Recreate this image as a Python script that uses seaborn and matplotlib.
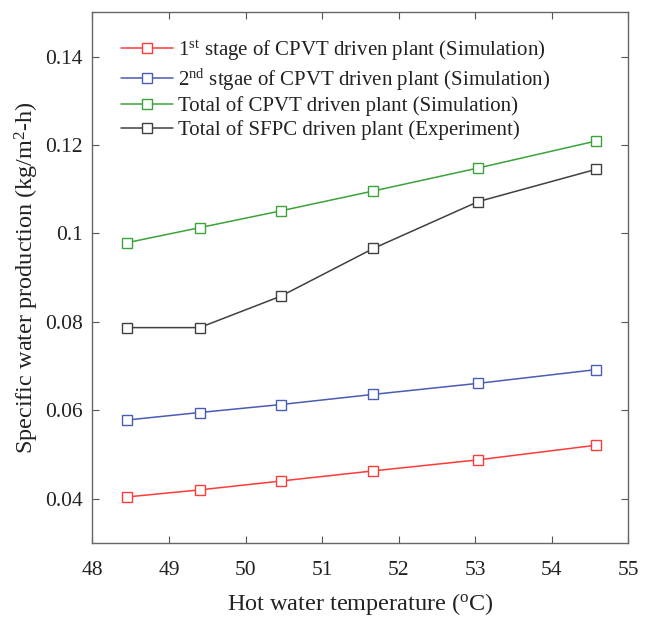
import numpy as np
import pandas as pd
import matplotlib
matplotlib.use("Agg")
import matplotlib.pyplot as plt
import seaborn as sns

# Hot water temperature (°C)
temperature = [48.45, 49.4, 50.46, 51.67, 53.04, 54.58]

# Specific water production (kg/m^2-h)
stage1_cpvt = [0.0404, 0.0420, 0.0440, 0.0463, 0.0488, 0.0521]
stage2_cpvt = [0.0578, 0.0595, 0.0613, 0.0636, 0.0661, 0.0692]
total_cpvt = [0.0979, 0.1013, 0.1051, 0.1096, 0.1148, 0.1209]
total_sfpc = [0.0787, 0.0787, 0.0858, 0.0966, 0.1072, 0.1145]

labels = [
    r"1$^{\mathrm{st}}$ stage of CPVT driven plant (Simulation)",
    r"2$^{\mathrm{nd}}$ stgae of CPVT driven plant (Simulation)",
    "Total of CPVT driven plant (Simulation)",
    "Total of SFPC driven plant (Experiment)",
]
colors = ["#ff3a3a", "#4a5cb4", "#3aa43a", "#404040"]

x_ticks = [48, 49, 50, 51, 52, 53, 54, 55]
y_ticks = [0.04, 0.06, 0.08, 0.1, 0.12, 0.14]
y_tick_labels = ["0.04", "0.06", "0.08", "0.1", "0.12", "0.14"]

sns.set_theme(style="white")
plt.rcParams["font.family"] = ["Liberation Serif", "DejaVu Serif"]
plt.rcParams["mathtext.fontset"] = "custom"
plt.rcParams["mathtext.rm"] = "Liberation Serif"
plt.rcParams["mathtext.it"] = "Liberation Serif:italic"

df = pd.DataFrame({
    "T": temperature * 4,
    "SWP": stage1_cpvt + stage2_cpvt + total_cpvt + total_sfpc,
    "series": sum([[lab] * len(temperature) for lab in labels], []),
})

fig = plt.figure(figsize=(6.51, 6.17), dpi=100)
ax = fig.add_axes([0.142, 0.12, 0.823, 0.86])

for lab, col in zip(labels, colors):
    sub = df[df["series"] == lab]
    sns.lineplot(data=sub, x="T", y="SWP", ax=ax, color=col, label=lab,
                 marker="s", markersize=6.5, markerfacecolor="white",
                 markeredgecolor=col, markeredgewidth=1.0, linewidth=1.1)

ax.set_xlim(48, 55)
ax.set_ylim(0.03, 0.15)
ax.set_xticks(x_ticks)
ax.set_xticklabels([str(t) for t in x_ticks])
ax.set_yticks(y_ticks)
ax.set_yticklabels(y_tick_labels)
ax.tick_params(direction="in", length=5, width=0.8, color="#555555",
               labelsize=15.5, top=True, right=True, bottom=True, left=True,
               labelcolor="#222222")
ax.tick_params(axis="x", pad=13)
ax.tick_params(axis="y", pad=7)
for sp in ax.spines.values():
    sp.set_visible(True)
    sp.set_color("#666666")
    sp.set_linewidth(1.0)

ax.set_xlabel(r"Hot water temperature ($^{\mathrm{o}}$C)", fontsize=17.5,
              color="#222222", labelpad=8)
ax.set_ylabel(r"Specific water production (kg/m$^{2}$-h)", fontsize=17.5,
              color="#222222", labelpad=3)

leg = ax.legend(loc="upper left", frameon=False, fontsize=15,
                handlelength=2.5, handletextpad=0.25, labelspacing=0.18,
                bbox_to_anchor=(0.03, 0.975), borderaxespad=0.2)
for t in leg.get_texts():
    t.set_color("#222222")

fig.savefig("out.png", dpi=100)
